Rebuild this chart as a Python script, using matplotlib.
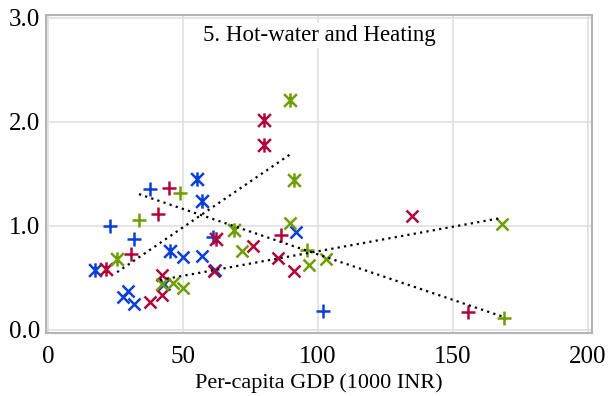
import matplotlib
matplotlib.use("Agg")
import matplotlib.pyplot as plt
from matplotlib.path import Path

plt.rcParams["font.family"] = ["Liberation Serif", "DejaVu Serif"]

# Per-capita GDP (1000 INR) and index value, by region colour and marker group
blue_plus_gdp = [37.8, 23.0, 31.9, 61.2, 102.0]
blue_plus_val = [1.35, 1.00, 0.875, 0.89, 0.18]
red_plus_gdp = [44.8, 40.9, 30.7, 86.4, 155.4]
red_plus_val = [1.36, 1.11, 0.73, 0.91, 0.17]
green_plus_gdp = [48.9, 33.8, 95.8, 169.0]
green_plus_val = [1.32, 1.06, 0.77, 0.11]

blue_cross_gdp = [29.7, 27.9, 32.0, 50.1, 56.9, 62.0, 91.7, 43.0]
blue_cross_val = [0.37, 0.32, 0.245, 0.70, 0.71, 0.58, 0.94, 0.44]
red_cross_gdp = [37.6, 42.1, 42.1, 61.5, 75.8, 85.3, 91.1, 134.9]
red_cross_val = [0.27, 0.53, 0.34, 0.57, 0.81, 0.69, 0.57, 1.09]
green_cross_gdp = [42.1, 46.4, 50.1, 71.7, 89.5, 96.8, 102.8, 168.0]
green_cross_val = [0.44, 0.45, 0.40, 0.76, 1.03, 0.62, 0.68, 1.02]

blue_star_gdp = [17.4, 55.0, 56.9, 45.2]
blue_star_val = [0.58, 1.45, 1.24, 0.76]
red_star_gdp = [21.5, 80.0, 80.0, 62.2]
red_star_val = [0.59, 2.02, 1.78, 0.87]
green_star_gdp = [25.7, 89.6, 91.1, 68.9]
green_star_val = [0.68, 2.21, 1.44, 0.96]

# Fitted trend lines (start and end of each fit)
trend_star_gdp = [25.6, 90.4]
trend_star_val = [0.555, 1.70]
trend_plus_gdp = [33.7, 168.1]
trend_plus_val = [1.305, 0.13]
trend_cross_gdp = [41.5, 167.4]
trend_cross_val = [0.48, 1.074]

x_ticks = [0, 50, 100, 150, 200]
y_ticks = [0.0, 1.0, 2.0, 3.0]

BLUE = "#0b3fd6"
RED = "#b0043a"
GREEN = "#6e9e00"

# asterisk: a cross with a vertical bar through it
star_marker = Path(
    [(-1, -1), (1, 1), (-1, 1), (1, -1), (0, -1.12), (0, 1.12)],
    [Path.MOVETO, Path.LINETO, Path.MOVETO, Path.LINETO, Path.MOVETO, Path.LINETO],
)

fig = plt.figure(figsize=(6.13, 3.96), dpi=100)
ax = fig.add_axes([0.075, 0.159, 0.891, 0.803])

groups = [
    (blue_plus_gdp, blue_plus_val, BLUE, "+", 9.5),
    (blue_cross_gdp, blue_cross_val, BLUE, "x", 8.3),
    (blue_star_gdp, blue_star_val, BLUE, star_marker, 10.3),
    (red_plus_gdp, red_plus_val, RED, "+", 9.5),
    (red_cross_gdp, red_cross_val, RED, "x", 8.3),
    (red_star_gdp, red_star_val, RED, star_marker, 10.3),
    (green_plus_gdp, green_plus_val, GREEN, "+", 9.5),
    (green_cross_gdp, green_cross_val, GREEN, "x", 8.3),
    (green_star_gdp, green_star_val, GREEN, star_marker, 10.3),
]
for gx, gy, col, mk, ms in groups:
    ax.plot(gx, gy, linestyle="none", marker=mk, markersize=ms,
            markeredgewidth=1.8, color=col, zorder=3)

for tx, ty in [(trend_star_gdp, trend_star_val),
               (trend_plus_gdp, trend_plus_val),
               (trend_cross_gdp, trend_cross_val)]:
    ax.plot(tx, ty, color="black", linewidth=1.6, linestyle=(0, (1, 1.9)),
            dash_capstyle="butt", zorder=4)

ax.set_xlim(-0.75, 201.5)
ax.set_ylim(-0.03, 3.026)
ax.set_xticks(x_ticks)
ax.set_xticklabels([str(t) for t in x_ticks])
ax.set_yticks(y_ticks)
ax.set_yticklabels([f"{t:.1f}" for t in y_ticks])
ax.tick_params(length=0, labelsize=18)
ax.tick_params(axis="x", pad=9)
ax.tick_params(axis="y", pad=4)
ax.grid(True, color="#e0e0e0", linewidth=1.2)
ax.set_axisbelow(True)
for sp in ax.spines.values():
    sp.set_color("#b4b4b4")
    sp.set_linewidth(1.5)

ax.set_xlabel("Per-capita GDP (1000 INR)", fontsize=16, labelpad=4)

ax.text(0.5, 0.937, "5. Hot-water and Heating", transform=ax.transAxes,
        ha="center", va="center", fontsize=16.5, zorder=5,
        bbox=dict(facecolor="white", edgecolor="none", pad=1.5))

fig.savefig("out.png", dpi=100)
